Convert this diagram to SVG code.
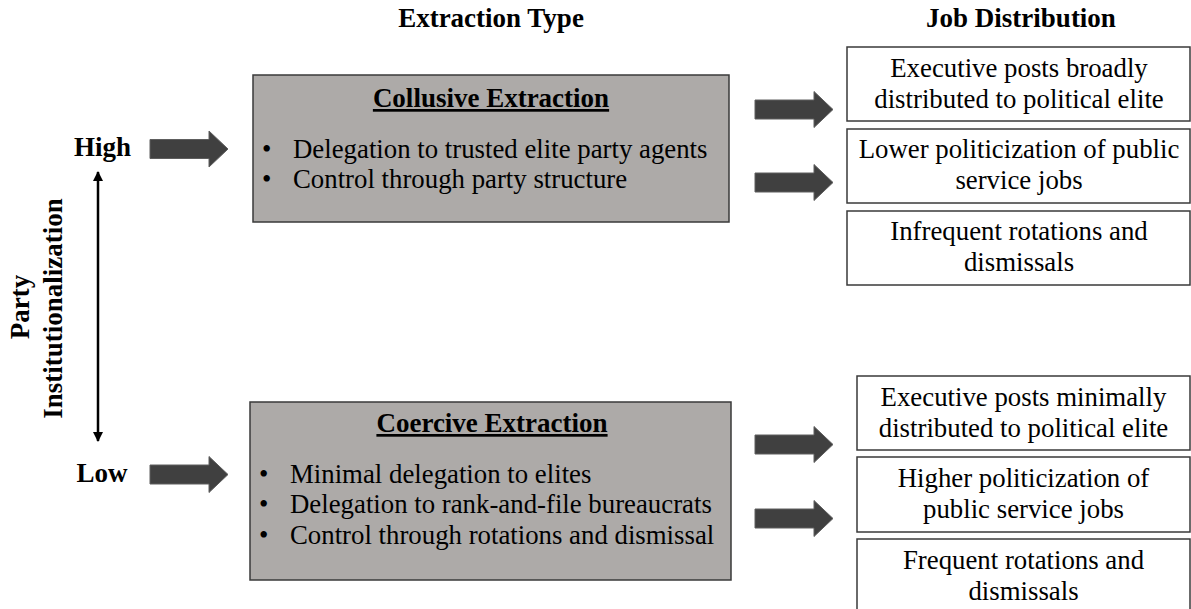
<svg xmlns="http://www.w3.org/2000/svg" width="1191" height="609" viewBox="0 0 1191 609">
<style>
text{font-family:"Liberation Serif","Times New Roman",serif;fill:#000}
.b{font-weight:bold;font-size:27px}
.t{font-size:26.8px}
.h{font-weight:bold;font-size:27px;text-decoration:underline}
.c{text-anchor:middle}
.gbox{fill:#adaaa8;stroke:#3a3a3a;stroke-width:1.5}
.wbox{fill:#fff;stroke:#3a3a3a;stroke-width:1.5}
.fat{fill:#404040;stroke:#5e5e5e;stroke-width:1}
.axis{stroke:#000;stroke-width:2.5;fill:none}
</style>
<defs>
<path id="fa" d="M0,-9.5 H59 V-18 L78,0 L59,18 V9.5 H0 Z"/>
<marker id="ah" viewBox="0 0 10 10" refX="9" refY="5" markerWidth="4.2" markerHeight="4.2" orient="auto-start-reverse">
<path d="M0,0 L10,5 L0,10 Z" fill="#000"/>
</marker>
</defs>
<rect width="1191" height="609" fill="#fff"/>

<g id="headers">
<text class="b c" x="491" y="27">Extraction Type</text>
<text class="b c" x="1021" y="27">Job Distribution</text>
</g>

<g id="axis-label">
<text class="b c" transform="translate(29,307) rotate(-90)">Party</text>
<text class="b c" transform="translate(62,308.5) rotate(-90)">Institutionalization</text>
</g>

<g id="high"><text class="b c" x="102.5" y="156">High</text></g>
<g id="low"><text class="b c" x="102" y="482">Low</text></g>

<g id="collusive">
<rect class="gbox" x="253" y="75" width="476" height="147"/>
<text class="h c" x="491" y="107">Collusive Extraction</text>
<text class="t" x="262" y="158">•</text>
<text class="t" x="293" y="158">Delegation to trusted elite party agents</text>
<text class="t" x="262" y="188">•</text>
<text class="t" x="293" y="188">Control through party structure</text>
</g>

<g id="coercive">
<rect class="gbox" x="250" y="402" width="481" height="178"/>
<text class="h c" x="492" y="432">Coercive Extraction</text>
<text class="t" x="259" y="483">•</text>
<text class="t" x="290" y="483">Minimal delegation to elites</text>
<text class="t" x="259" y="513">•</text>
<text class="t" x="290" y="513">Delegation to rank-and-file bureaucrats</text>
<text class="t" x="259" y="544">•</text>
<text class="t" x="290" y="544">Control through rotations and dismissal</text>
</g>

<g id="job-high-1">
<rect class="wbox" x="847" y="47" width="343" height="74"/>
<text class="t c" x="1019" y="77">Executive posts broadly</text>
<text class="t c" x="1019" y="108">distributed to political elite</text>
</g>
<g id="job-high-2">
<rect class="wbox" x="847" y="129" width="343" height="74"/>
<text class="t c" x="1019" y="158">Lower politicization of public</text>
<text class="t c" x="1019" y="189">service jobs</text>
</g>
<g id="job-high-3">
<rect class="wbox" x="847" y="211" width="343" height="74"/>
<text class="t c" x="1019" y="240">Infrequent rotations and</text>
<text class="t c" x="1019" y="271">dismissals</text>
</g>

<g id="job-low-1">
<rect class="wbox" x="857" y="376" width="333" height="74"/>
<text class="t c" x="1023.5" y="406">Executive posts minimally</text>
<text class="t c" x="1023.5" y="437">distributed to political elite</text>
</g>
<g id="job-low-2">
<rect class="wbox" x="857" y="457" width="333" height="75"/>
<text class="t c" x="1023.5" y="487">Higher politicization of</text>
<text class="t c" x="1023.5" y="518">public service jobs</text>
</g>
<g id="job-low-3">
<rect class="wbox" x="857" y="539" width="333" height="75"/>
<text class="t c" x="1023.5" y="569">Frequent rotations and</text>
<text class="t c" x="1023.5" y="600">dismissals</text>
</g>

<g id="connectors">
<line class="axis" x1="98" y1="172" x2="98" y2="441" marker-start="url(#ah)" marker-end="url(#ah)"/>
<use href="#fa" class="fat" x="150" y="149"/>
<use href="#fa" class="fat" x="150" y="474.5"/>
<use href="#fa" class="fat" x="755" y="109.5"/>
<use href="#fa" class="fat" x="755" y="182.5"/>
<use href="#fa" class="fat" x="755" y="444.5"/>
<use href="#fa" class="fat" x="755" y="518.5"/>
</g>
</svg>
